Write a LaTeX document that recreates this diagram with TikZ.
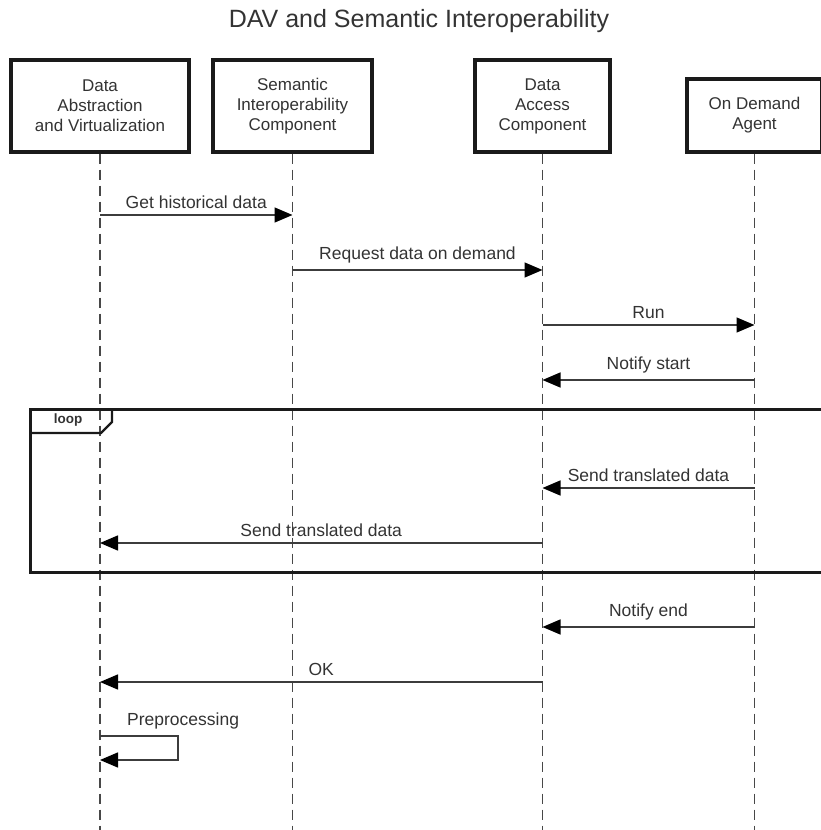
\documentclass[tikz,border=0pt]{standalone}
\usepackage{fontspec}
\setmainfont{Liberation Sans}
\usetikzlibrary{arrows.meta}
\definecolor{edge}{HTML}{1A1A1A}
\definecolor{txt}{HTML}{333333}
\begin{document}
\begin{tikzpicture}[x=1pt,y=-1pt,
  every node/.style={font=\fontsize{17.5}{20}\selectfont, text=txt},
  actor/.style={draw=edge, line width=3.2pt, align=center, inner sep=0pt, fill=white,
    font=\fontsize{17}{20}\selectfont},
  lifeline/.style={draw=edge!80, line width=1.9pt, dash pattern=on 10pt off 6pt},
  msg/.style={draw=edge!85, line width=1.5pt,
    -{Triangle[length=18pt,width=15pt,color=black]}},
  msglabel/.style={midway, anchor=south, inner sep=0pt, yshift=6pt},
  frame/.style={draw=edge, line width=3pt}
]
\useasboundingbox (0,0) rectangle (820,830);

% title
\node (title) at (419,21) {\fontsize{25}{28}\selectfont DAV and Semantic Interoperability};

% participants
\node[actor, minimum width=178pt, minimum height=92pt] (dav) at (100,106)
  {Data\\Abstraction\\and Virtualization};
\node[actor, minimum width=159pt, minimum height=92pt] (sic) at (292.5,106)
  {Semantic\\Interoperability\\Component};
\node[actor, minimum width=135pt, minimum height=92pt] (dac) at (542.5,106)
  {Data\\Access\\Component};
\node[actor, minimum width=135pt, minimum height=73pt] (oda) at (754.5,115.5)
  {On Demand\\Agent};

% lifeline ends
\coordinate (davE) at (100,832);
\coordinate (sicE) at (292.5,832);
\coordinate (dacE) at (542.5,832);
\coordinate (odaE) at (754.5,832);

% loop fragment (runs past the right edge)
\coordinate (lpA) at (30,409);
\coordinate (lpB) at (840,572);
\coordinate (tab1) at (112,409);
\coordinate (tab2) at (112,422);
\coordinate (tab3) at (101,433);
\coordinate (tab4) at (30,433);

% lifelines
\draw[lifeline] (dav.south) -- (davE);
\draw[lifeline] (sic.south) -- (sicE);
\draw[lifeline] (dac.south) -- (dacE);
\draw[lifeline] (oda.south) -- (odaE);

\draw[frame] (lpA) rectangle (lpB);
\draw[frame, line width=2.2pt] (tab1) -- (tab2) -- (tab3) -- (tab4);
\node[font=\fontsize{13.5}{15}\selectfont\bfseries] (looplbl) at (68,420) {loop};

% message anchor points on the lifelines
\foreach \n/\x in {dav/100, sic/292.5, dac/542.5, oda/754.5}{
  \foreach \y in {215,270,325,380,488,543,627,682,736,760}{
    \coordinate (\n-\y) at (\x,\y);
  }
}

% messages
\draw[msg] (dav-215) -- node[msglabel] {Get historical data} (sic-215);
\draw[msg] (sic-270) -- node[msglabel] {Request data on demand} (dac-270);
\draw[msg] (dac-325) -- node[msglabel] {Run} (oda-325);
\draw[msg] (oda-380) -- node[msglabel] {Notify start} (dac-380);
\draw[msg] (oda-488) -- node[msglabel] {Send translated data} (dac-488);
\draw[msg] (dac-543) -- node[msglabel] {Send translated data} (dav-543);
\draw[msg] (oda-627) -- node[msglabel] {Notify end} (dac-627);
\draw[msg] (dac-682) -- node[msglabel] {OK} (dav-682);

% self call
\coordinate (selfR1) at (178,736);
\coordinate (selfR2) at (178,760);
\draw[msg] (dav-736) -- (selfR1) -- (selfR2) -- (dav-760);
\node[anchor=west, inner sep=0pt] (pplbl) at (127,721) {Preprocessing};
\end{tikzpicture}
\end{document}
